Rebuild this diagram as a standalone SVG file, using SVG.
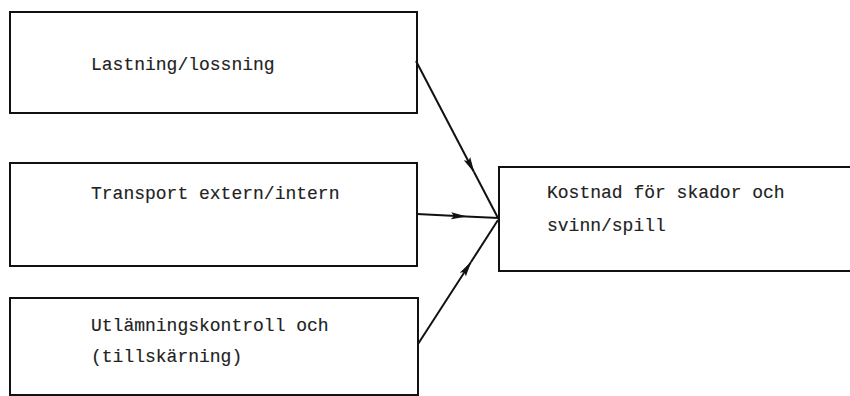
<svg xmlns="http://www.w3.org/2000/svg" width="850" height="396" viewBox="0 0 850 396">
  <style>
    .box { fill: none; stroke: #111; stroke-width: 2; }
    .lbl { font-family: "Liberation Mono", "Courier New", monospace; font-size: 18px; fill: #222; stroke: #222; stroke-width: 0.15; }
    .edge { fill: none; stroke: #111; stroke-width: 2; }
  </style>
  <defs>
    <marker id="arrow" viewBox="0 0 16 8" refX="15" refY="4" markerWidth="16" markerHeight="8" markerUnits="userSpaceOnUse" orient="auto">
      <path d="M0,0.5 L16,4 L0,7.5 L3,4 Z" fill="#111"/>
    </marker>
  </defs>
  <rect width="850" height="396" fill="#fff"/>

  <g id="lastning">
    <rect class="box" x="10" y="12" width="407" height="101"/>
    <text class="lbl" x="91" y="70">Lastning/lossning</text>
  </g>

  <g id="transport">
    <rect class="box" x="10" y="163" width="407" height="103"/>
    <text class="lbl" x="91" y="199">Transport extern/intern</text>
  </g>

  <g id="utlamning">
    <rect class="box" x="10" y="298" width="408" height="97"/>
    <text class="lbl" x="91" y="331">Utlämningskontroll och</text>
    <text class="lbl" x="91" y="362">(tillskärning)</text>
  </g>

  <g id="kostnad">
    <rect class="box" x="499" y="167" width="360" height="104"/>
    <text class="lbl" x="547" y="198">Kostnad för skador och</text>
    <text class="lbl" x="547" y="231">svinn/spill</text>
  </g>

  <g id="connectors">
    <path class="edge" d="M416,61 L474,172" marker-end="url(#arrow)"/>
    <path class="edge" d="M474,172 L498,218"/>
    <path class="edge" d="M417,214 L466,216.5" marker-end="url(#arrow)"/>
    <path class="edge" d="M466,216.5 L499,218"/>
    <path class="edge" d="M418,344 L471,262" marker-end="url(#arrow)"/>
    <path class="edge" d="M471,262 L498,220"/>
  </g>
</svg>
